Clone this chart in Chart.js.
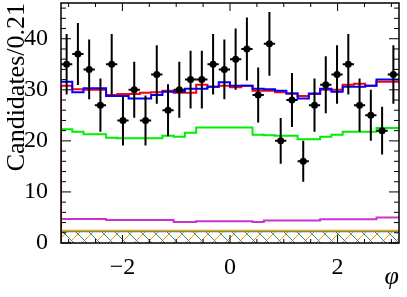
<!DOCTYPE html>
<html><head><meta charset="utf-8">
<script src="https://cdn.jsdelivr.net/npm/chart.js@4"></script>
<style>html,body{margin:0;padding:0;background:#fff}#wrap{width:407px;height:297px}</style>
</head><body><div id="wrap"><canvas id="c" width="407" height="297"></canvas></div>
<script>
const X_MIN = -Math.PI, X_MAX = Math.PI, NBINS = 30;
const X_TICKS = [-2, 0, 2];
const Y_TICKS = [0, 10, 20, 30, 40];
const counts = [35,37,34,27,35,24,30,24,33,26,30,32,32,35,34,36,38,29,39,20,28,16,27,31,33,35,27,25,22,33];
const totalBlue = [31.8,31.6,29.5,30.3,30.3,28.8,28.8,28.3,28.3,29.0,29.6,29.6,30.2,30.2,30.6,31.5,30.8,30.8,30.2,30.1,29.8,29.3,28.3,29.3,30.2,29.6,30.6,30.6,30.8,32.0];
const totalRed = [30.5,30.8,30.1,30.0,30.0,29.0,29.2,29.2,29.4,29.5,29.8,29.4,29.4,31.0,30.6,30.8,30.5,30.8,29.8,29.8,29.5,29.3,28.8,29.2,30.0,30.0,31.0,31.2,30.8,31.6];
const compGreen = [22.0,22.3,21.8,21.3,21.3,20.6,20.5,20.5,20.5,20.5,21.0,20.8,21.6,22.6,22.6,22.6,22.6,22.6,21.2,21.1,21.0,21.0,20.3,20.3,20.8,21.2,21.8,21.8,21.8,22.5];
const compMagenta = [4.7,4.7,4.7,4.7,4.7,4.5,4.5,4.5,4.5,4.5,4.5,4.1,4.1,4.25,4.25,4.25,4.25,4.25,4.1,4.4,4.4,4.4,4.4,4.4,4.65,4.65,4.65,4.65,4.65,5.0];
const compOrange = [2.4,2.4,2.4,2.4,2.4,2.4,2.4,2.4,2.4,2.4,2.4,2.4,2.4,2.4,2.4,2.4,2.4,2.4,2.4,2.4,2.4,2.4,2.4,2.4,2.4,2.4,2.4,2.4,2.4,2.4];
const compTeal = [2.2,2.2,2.2,2.2,2.2,2.2,2.2,2.2,2.2,2.2,2.2,2.2,2.2,2.2,2.2,2.2,2.2,2.2,2.2,2.2,2.2,2.2,2.2,2.2,2.2,2.2,2.2,2.2,2.2,2.2];

const BW = (X_MAX - X_MIN) / NBINS;
function stepData(vals, fromZero) {
  const d = [];
  if (fromZero) d.push({x: X_MIN, y: 0});
  vals.forEach((v, i) => d.push({x: X_MIN + i * BW, y: v}));
  d.push({x: X_MAX, y: vals[vals.length - 1]});
  return d;
}
function hatch(color, dir) {
  const c = document.createElement('canvas'); c.width = 13; c.height = 13;
  const g = c.getContext('2d'); g.strokeStyle = color; g.lineWidth = 1;
  g.beginPath();
  if (dir > 0) { g.moveTo(-1, 14); g.lineTo(14, -1); g.moveTo(-8, 7); g.lineTo(7, -8); g.moveTo(6, 21); g.lineTo(21, 6); }
  else { g.moveTo(-1, -1); g.lineTo(14, 14); g.moveTo(-8, 5); g.lineTo(8, 21); g.moveTo(5, -8); g.lineTo(21, 8); }
  g.stroke();
  return g.createPattern(c, 'repeat');
}
const pts = counts.map((n, i) => ({x: X_MIN + (i + 0.5) * BW, y: n}));
const FONT = 'Liberation Serif';

const errPlugin = {
  id: 'err',
  afterDatasetsDraw(chart) {
    const ctx = chart.ctx, xs = chart.scales.x, ys = chart.scales.y, a = chart.chartArea;
    ctx.save();
    ctx.strokeStyle = '#000'; ctx.lineWidth = 2;
    pts.forEach(p => {
      const e = Math.sqrt(p.y);
      const px = xs.getPixelForValue(p.x), py = ys.getPixelForValue(p.y);
      ctx.beginPath();
      ctx.moveTo(px, Math.min(a.bottom, ys.getPixelForValue(p.y - e)));
      ctx.lineTo(px, Math.max(a.top, ys.getPixelForValue(p.y + e)));
      ctx.moveTo(xs.getPixelForValue(p.x - BW / 2), py);
      ctx.lineTo(xs.getPixelForValue(p.x + BW / 2), py);
      ctx.stroke();
      ctx.fillStyle = '#000'; ctx.beginPath(); ctx.arc(px, py, 3.5, 0, Math.PI * 2); ctx.fill();
    });
    ctx.lineWidth = 1.5; ctx.strokeStyle = '#000';
    ctx.strokeRect(a.left, a.top, a.right - a.left, a.bottom - a.top);
    ctx.lineWidth = 1;
    ctx.beginPath();
    for (let v = 0; v <= 46; v += 2) {
      const py = ys.getPixelForValue(v), L = (v % 10 === 0) ? 10 : 5;
      ctx.moveTo(a.left, py); ctx.lineTo(a.left + L, py);
      ctx.moveTo(a.right, py); ctx.lineTo(a.right - L, py);
    }
    for (let v = -3; v <= 3; v += 0.5) {
      const px = xs.getPixelForValue(v), L = (Math.abs(v % 2) < 1e-9) ? 8 : 4;
      ctx.moveTo(px, a.bottom); ctx.lineTo(px, a.bottom - L);
      ctx.moveTo(px, a.top); ctx.lineTo(px, a.top + L);
    }
    ctx.stroke();
    ctx.restore();
  }
};

new Chart(document.getElementById('c'), {
  type: 'line',
  data: {
    datasets: [
      {data: stepData(compTeal), stepped: 'after', borderColor: '#2a8a8a', borderWidth: 1, backgroundColor: hatch('#2a8a8a', -1), fill: 'origin', pointRadius: 0},
      {data: stepData(compOrange), stepped: 'after', borderColor: '#ff9900', borderWidth: 2, backgroundColor: hatch('#ff9900', 1), fill: 'origin', pointRadius: 0},
      {data: stepData(compMagenta), stepped: 'after', borderColor: '#cc33cc', borderWidth: 2, fill: false, pointRadius: 0},
      {data: stepData(compGreen), stepped: 'after', borderColor: '#00ee00', borderWidth: 2, fill: false, pointRadius: 0},
      {data: stepData(totalBlue), stepped: 'after', borderColor: '#0000ff', borderWidth: 2, fill: false, pointRadius: 0},
      {data: stepData(totalRed, true), stepped: 'after', borderColor: '#ff0000', borderWidth: 2, fill: false, pointRadius: 0}
    ]
  },
  options: {
    responsive: false, animation: false, events: [],
    layout: {padding: {top: 3, right: 8, left: 0, bottom: 0}},
    plugins: {legend: {display: false}, tooltip: {enabled: false}},
    scales: {
      x: {
        type: 'linear', min: X_MIN, max: X_MAX,
        afterBuildTicks: s => { s.ticks = X_TICKS.map(v => ({value: v})); },
        afterFit: s => { s.height = 54; s.paddingLeft = 0; s.paddingRight = 0; },
        grid: {display: false}, border: {display: false},
        ticks: {color: '#000', font: {family: FONT, size: 24}, padding: 2,
          callback: v => (v < 0 ? '\u2212' + Math.abs(v) : String(v))},
        title: {display: true, text: 'φ', align: 'end', color: '#000',
          font: {family: FONT, size: 26, style: 'italic'}, padding: {top: 0, bottom: 4}}
      },
      y: {
        type: 'linear', min: 0, max: 47,
        afterBuildTicks: s => { s.ticks = Y_TICKS.map(v => ({value: v})); },
        afterFit: s => { s.width = 61; s.paddingTop = 0; s.paddingBottom = 0; },
        grid: {display: false}, border: {display: false},
        ticks: {color: '#000', font: {family: FONT, size: 24}, padding: 5},
        title: {display: true, text: 'Candidates/0.21', align: 'end', color: '#000',
          font: {family: FONT, size: 26}, padding: {top: 2, bottom: 0}}
      }
    }
  },
  plugins: [errPlugin]
});
</script></body></html>
